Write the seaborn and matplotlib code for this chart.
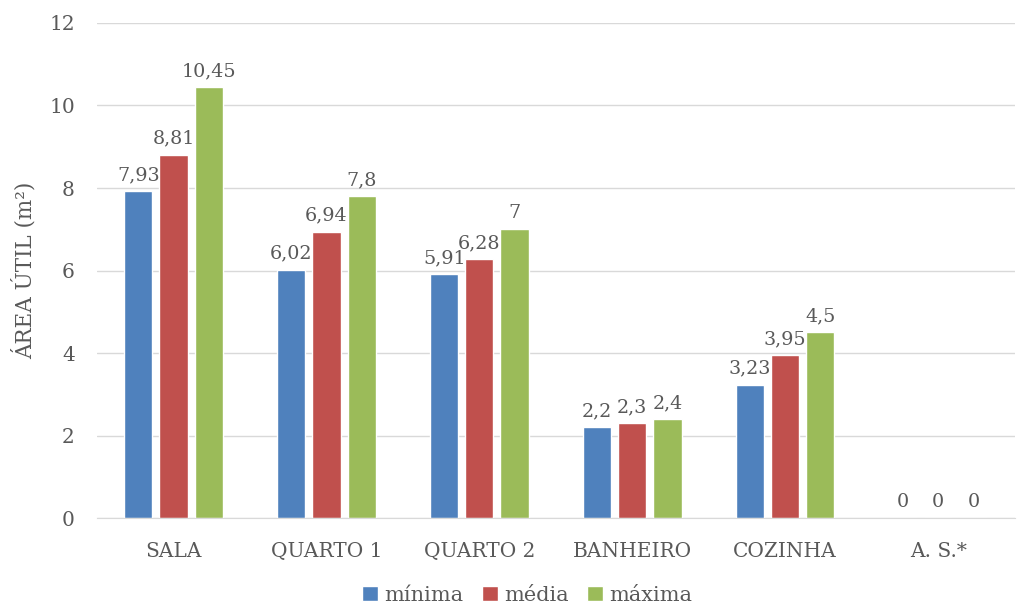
import matplotlib
matplotlib.use("Agg")
import matplotlib.pyplot as plt
import seaborn as sns
import pandas as pd
from matplotlib.patches import Patch

rooms = ["SALA", "QUARTO 1", "QUARTO 2", "BANHEIRO", "COZINHA", "A. S.*"]
minima = [7.93, 6.02, 5.91, 2.2, 3.23, 0]
media = [8.81, 6.94, 6.28, 2.3, 3.95, 0]
maxima = [10.45, 7.8, 7, 2.4, 4.5, 0]
series = ["mínima", "média", "máxima"]
colors = ["#4F81BD", "#C0504D", "#9BBB59"]

rows = []
for name, vals in zip(series, [minima, media, maxima]):
    for room, v in zip(rooms, vals):
        rows.append({"room": room, "serie": name, "area": v})
df = pd.DataFrame(rows)

sns.set_style("white")
plt.rcParams["font.family"] = ["DejaVu Serif"]
txt = "#595959"

fig = plt.figure(figsize=(10.28, 6.10), dpi=100)
ax = fig.add_axes([0.0944, 0.1508, 0.8926, 0.8115])

sns.barplot(data=df, x="room", y="area", hue="serie", palette=colors,
            order=rooms, hue_order=series, errorbar=None, width=0.69,
            gap=0.2, ax=ax, legend=False, saturation=1)

for cont in ax.containers:
    labels = ["{:g}".format(b.get_height()).replace(".", ",") for b in cont]
    ax.bar_label(cont, labels=labels, padding=5, fontsize=13.8, color=txt)

ax.set_ylim(0, 12)
ax.set_yticks(range(0, 13, 2))
ax.set_xlim(-0.5, len(rooms) - 0.5)
ax.yaxis.grid(True, color="#D9D9D9", linewidth=1)
ax.set_axisbelow(True)
for s in ["top", "right", "left"]:
    ax.spines[s].set_visible(False)
ax.spines["bottom"].set_color("#D9D9D9")
ax.tick_params(axis="both", length=0, labelsize=14.5, colors=txt)
ax.tick_params(axis="x", pad=17)
ax.tick_params(axis="y", pad=16)
ax.set_xlabel("")
ax.set_ylabel("ÁREA ÚTIL (m²)", fontsize=15.5, color=txt, labelpad=9)

handles = [Patch(facecolor=c, label=s) for c, s in zip(colors, series)]
fig.legend(handles=handles, loc="lower center", bbox_to_anchor=(0.513, -0.022),
           ncol=3, frameon=False, fontsize=15, handlelength=0.75,
           handleheight=0.75, handletextpad=0.3, columnspacing=0.9,
           labelcolor=txt)

fig.savefig("out.png", dpi=100)
